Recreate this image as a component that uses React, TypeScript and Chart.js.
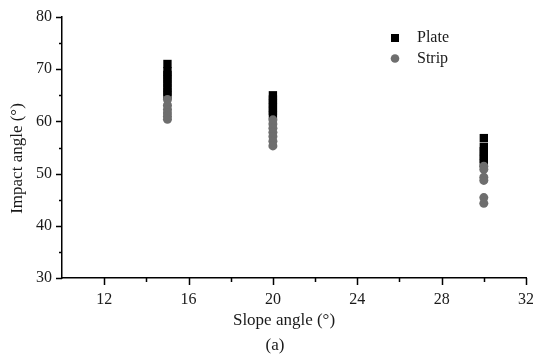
import React, { useEffect, useRef } from "react";
import { Chart, registerables } from "chart.js";

Chart.register(...registerables);

const slopeCategories = [15, 20, 30];
const plate15 = [71, 69.6, 68.9, 68.1, 67.3, 66.5, 65.7, 65];
const plate20 = [65, 64.2, 63.5, 62.7, 62, 61.2];
const plate30 = [56.8, 55.1, 54.3, 53.5, 52.8, 52];
const strip15 = [64.2, 63.1, 62.3, 61.6, 61, 60.4];
const strip20 = [60.3, 59.5, 58.7, 57.9, 57.1, 56.2, 55.3];
const strip30 = [51.4, 50.8, 49.3, 48.7, 45.4, 44.3];

const xMajorTicks = [12, 16, 20, 24, 28, 32];
const xMinorTicks = [14, 18, 22, 26, 30];
const yMajorTicks = [30, 40, 50, 60, 70, 80];
const yMinorTicks = [35, 45, 55, 65, 75];

const seriesLabels = ["Plate", "Strip"];
const xTitle = "Slope angle (°)";
const yTitle = "Impact angle (°)";
const caption = "(a)";

const FONT = "'Liberation Serif', 'Times New Roman', serif";
const PLATE_COLOR = "#000000";
const STRIP_COLOR = "#6e6e6e";
const TEXT_COLOR = "#1a1a1a";

function toPoints(x: number, ys: number[]) {
  return ys.map((y) => ({ x, y }));
}

const extrasPlugin = {
  id: "extras",
  afterDraw(chart: any) {
    const ctx = chart.ctx;
    const { chartArea } = chart;
    const xs = chart.scales.x;
    const ys = chart.scales.y;
    ctx.save();
    ctx.strokeStyle = "#000";
    ctx.lineWidth = 1.5;
    ctx.beginPath();
    xMajorTicks.forEach((v) => {
      const px = Math.round(xs.getPixelForValue(v)) + 0.5;
      ctx.moveTo(px, chartArea.bottom);
      ctx.lineTo(px, chartArea.bottom + 7);
    });
    xMinorTicks.forEach((v) => {
      const px = Math.round(xs.getPixelForValue(v)) + 0.5;
      ctx.moveTo(px, chartArea.bottom);
      ctx.lineTo(px, chartArea.bottom + 4);
    });
    yMajorTicks.forEach((v) => {
      const py = Math.round(ys.getPixelForValue(v)) + 0.5;
      ctx.moveTo(chartArea.left, py);
      ctx.lineTo(chartArea.left - 6, py);
    });
    yMinorTicks.forEach((v) => {
      const py = Math.round(ys.getPixelForValue(v)) + 0.5;
      ctx.moveTo(chartArea.left, py);
      ctx.lineTo(chartArea.left - 3, py);
    });
    ctx.stroke();

    ctx.fillStyle = TEXT_COLOR;
    ctx.font = `17px ${FONT}`;
    ctx.textAlign = "center";
    ctx.textBaseline = "middle";
    const cx = (chartArea.left + chartArea.right) / 2;
    const cy = (chartArea.top + chartArea.bottom) / 2;
    ctx.fillText(xTitle, cx - 10, chartArea.bottom + 43);
    ctx.fillText(caption, cx - 19, chartArea.bottom + 68);
    ctx.save();
    ctx.translate(chartArea.left - 44, cy + 11);
    ctx.rotate(-Math.PI / 2);
    ctx.fillText(yTitle, 0, 0);
    ctx.restore();

    const lx = chartArea.right - 131;
    const ly = chartArea.top + 21;
    const gap = 20.5;
    ctx.fillStyle = PLATE_COLOR;
    ctx.fillRect(lx - 4, ly - 4, 8, 8);
    ctx.fillStyle = STRIP_COLOR;
    ctx.beginPath();
    ctx.arc(lx, ly + gap, 4.3, 0, Math.PI * 2);
    ctx.fill();
    ctx.fillStyle = TEXT_COLOR;
    ctx.font = `16px ${FONT}`;
    ctx.textAlign = "left";
    ctx.fillText(seriesLabels[0], lx + 22, ly);
    ctx.fillText(seriesLabels[1], lx + 22, ly + gap);
    ctx.restore();
  },
};

export default function App() {
  const canvasRef = useRef<HTMLCanvasElement | null>(null);

  useEffect(() => {
    if (!canvasRef.current) return;
    const chart = new Chart(canvasRef.current, {
      type: "scatter",
      data: {
        datasets: [
          {
            label: seriesLabels[0],
            data: [
              ...toPoints(slopeCategories[0], plate15),
              ...toPoints(slopeCategories[1], plate20),
              ...toPoints(slopeCategories[2], plate30),
            ],
            pointStyle: "rect",
            pointRadius: 5.9,
            backgroundColor: PLATE_COLOR,
            borderColor: PLATE_COLOR,
            borderWidth: 0,
            order: 1,
          },
          {
            label: seriesLabels[1],
            data: [
              ...toPoints(slopeCategories[0], strip15),
              ...toPoints(slopeCategories[1], strip20),
              ...toPoints(slopeCategories[2], strip30),
            ],
            pointStyle: "circle",
            pointRadius: 4.5,
            backgroundColor: STRIP_COLOR,
            borderColor: STRIP_COLOR,
            borderWidth: 0,
            order: 0,
          },
        ],
      },
      options: {
        animation: false,
        responsive: true,
        maintainAspectRatio: false,
        layout: { padding: { top: 17, right: 7, left: 0, bottom: 0 } },
        plugins: {
          legend: { display: false },
          tooltip: { enabled: false },
        },
        scales: {
          x: {
            type: "linear",
            min: 10,
            max: 32,
            afterBuildTicks: (scale: any) => {
              scale.ticks = xMajorTicks.map((v) => ({ value: v }));
            },
            afterFit: (scale: any) => {
              scale.height = 78;
              scale.paddingLeft = 0;
              scale.paddingRight = 0;
            },
            grid: { display: true, drawOnChartArea: false, drawTicks: false },
            border: { display: true, color: "#000", width: 1.5 },
            ticks: {
              padding: 12,
              color: TEXT_COLOR,
              font: { family: FONT, size: 16 },
              maxRotation: 0,
            },
          },
          y: {
            type: "linear",
            min: 30,
            max: 80,
            afterBuildTicks: (scale: any) => {
              scale.ticks = yMajorTicks.map((v) => ({ value: v }));
            },
            afterFit: (scale: any) => {
              scale.width = 62;
              scale.paddingTop = 0;
              scale.paddingBottom = 0;
            },
            grid: { display: true, drawOnChartArea: false, drawTicks: false },
            border: { display: true, color: "#000", width: 1.5 },
            ticks: {
              padding: 10,
              color: TEXT_COLOR,
              font: { family: FONT, size: 16 },
            },
          },
        },
      },
      plugins: [extrasPlugin],
    } as any);
    return () => chart.destroy();
  }, []);

  return (
    <div style={{ position: "fixed", left: 0, top: 0, width: 533, height: 356, background: "#fff" }}>
      <canvas ref={canvasRef} />
    </div>
  );
}
